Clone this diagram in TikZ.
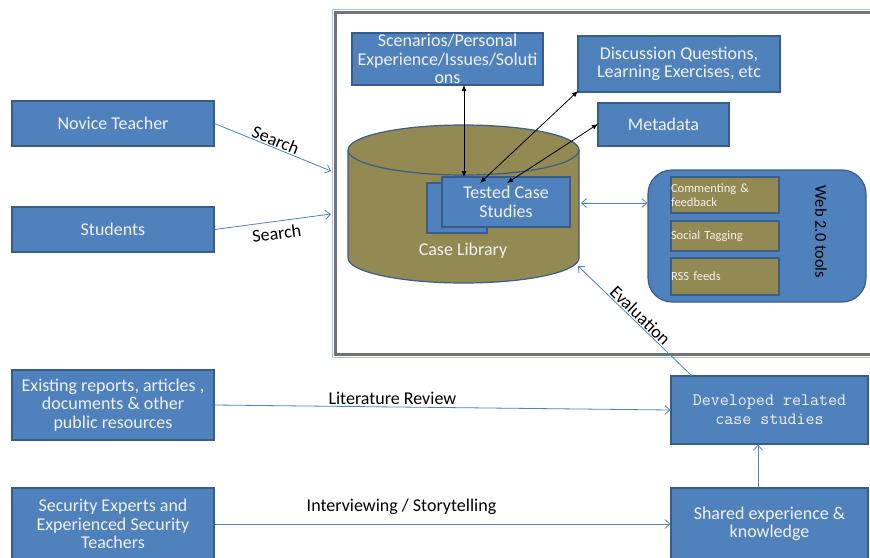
\documentclass[tikz,border=0pt]{standalone}
\usepackage{fontspec}
\setmainfont{Carlito}
\usetikzlibrary{arrows.meta}
\definecolor{boxblue}{HTML}{4F81BD}
\definecolor{boxline}{HTML}{385D8A}
\definecolor{olivefill}{HTML}{938953}
\definecolor{frameblue}{HTML}{A9C4E8}
\definecolor{textwhite}{HTML}{F2F2F2}
\tikzset{
  bluebox/.style={draw=boxline, fill=boxblue, line width=1.2pt, text=textwhite, align=center,
    font=\fontsize{18}{18.5}\selectfont, inner sep=0pt},
  olivebox/.style={draw=boxline, fill=olivefill, line width=1.6pt, text=textwhite, align=left,
    font=\fontsize{12.5}{14}\selectfont, inner sep=0pt, text width=108pt},
  bluearrow/.style={draw=boxblue, line width=0.8pt, -{Straight Barb[length=5pt,width=9pt]}},
  blackarrow/.style={draw=black, line width=0.8pt, {Latex[length=6pt,width=5pt]}-{Latex[length=6pt,width=5pt]}},
  lbl/.style={font=\fontsize{18}{19}\selectfont, text=black, inner sep=1pt}
}
\begin{document}
\begin{tikzpicture}[x=1pt,y=-1pt]
\useasboundingbox (0,0) rectangle (870,557);
% frame
\draw[frameblue, line width=1pt] (332,9.5) rectangle (885,357.5);
\draw[black!55, line width=2.5pt] (335.5,12.5) rectangle (885,354.5);
% top boxes
\node[bluebox, minimum width=191pt, minimum height=52pt] (scen) at (447.5,59) {Scenarios/Personal\\Experience/Issues/Soluti\\ons};
\node[bluebox, minimum width=202pt, minimum height=56pt] (disc) at (679,64) {Discussion Questions,\\Learning Exercises, etc};
\node[bluebox, minimum width=131pt, minimum height=43pt] (meta) at (663.5,124.5) {Metadata};
% cylinder
\fill[olivefill] (348,150) -- (348,258) arc[start angle=180, end angle=360, x radius=115.5pt, y radius=25pt]
  -- (579,150) arc[start angle=0, end angle=180, x radius=115.5pt, y radius=25pt] -- cycle;
\draw[boxline, line width=1.2pt] (348,150) -- (348,258) arc[start angle=180, end angle=360, x radius=115.5pt, y radius=25pt] -- (579,150);
\draw[boxline, line width=1.2pt] (463.5,150) ellipse [x radius=115.5pt, y radius=25pt];
\node[lbl, text=textwhite] (clib) at (463,251) {Case Library};
\coordinate (libR) at (581,203);
\coordinate (libB) at (578,266);
% tested case studies
\node[bluebox, minimum width=60pt, minimum height=50pt] (back) at (457,208) {};
\node[bluebox, minimum width=128pt, minimum height=50pt] (tcs) at (506,202) {Tested Case\\Studies};
% black arrows
\coordinate (t1) at (464,177);
\coordinate (t2) at (480,183);
\coordinate (t3) at (507,183);
\coordinate (s1) at (464,85);
\coordinate (d1) at (578,91);
\coordinate (m1) at (598,124);
\draw[blackarrow] (s1) -- (t1);
\draw[blackarrow] (d1) -- (t2);
\draw[blackarrow] (m1) -- (t3);
% web 2.0 tools
\node[draw=boxline, fill=boxblue, line width=1.2pt, rounded corners=24pt, minimum width=218pt, minimum height=132pt, inner sep=0pt] (web) at (757,236) {};
\node[olivebox, minimum height=36pt] (comm) at (725,195) {Commenting \&\\feedback};
\node[olivebox, minimum height=30pt] (tag) at (725,236) {Social Tagging};
\node[olivebox, minimum height=37pt] (rss) at (725,276.5) {RSS feeds};
\node[lbl, rotate=-90, font=\fontsize{16.5}{18}\selectfont] (webl) at (821,232) {Web 2.0 tools};
\draw[boxblue, line width=0.8pt, {Straight Barb[length=5pt,width=9pt]}-{Straight Barb[length=5pt,width=9pt]}] (libR) -- (web.west |- libR);
% left boxes
\node[bluebox, minimum width=202pt, minimum height=45pt] (nov) at (113,123.5) {Novice Teacher};
\node[bluebox, minimum width=202pt, minimum height=45pt] (stu) at (113,229.5) {Students};
\coordinate (se1) at (331,171);
\coordinate (se2) at (331,214);
\draw[bluearrow] (nov.east) -- (se1) node[lbl, pos=0.5, above, sloped] {Search};
\draw[bluearrow] (stu.east) -- (se2) node[lbl, pos=0.52, below=4pt, sloped] {Search};
\node[bluebox, minimum width=202pt, minimum height=70pt] (exist) at (113,405) {Existing reports, articles ,\\documents \& other\\public resources};
\node[bluebox, minimum width=202pt, minimum height=72pt] (sec) at (113,524) {Security Experts and\\Experienced Security\\Teachers};
\node[bluebox, minimum width=197pt, minimum height=68pt, font=\ttfamily\fontsize{17.5}{19}\selectfont] (dev) at (769.5,410) {Developed related\\case studies};
\node[bluebox, minimum width=197pt, minimum height=72pt] (shr) at (769.5,524) {Shared experience \&\\knowledge};
\draw[bluearrow] (exist.east) -- (dev.west) node[lbl, pos=0.39, above=1pt] {Literature Review};
\draw[bluearrow] (sec.east) -- (sec.east -| shr.west) node[lbl, pos=0.41, above=8pt] {Interviewing / Storytelling};
\draw[bluearrow] (shr.north -| 758,0) -- (dev.south -| 758,0);
\coordinate (ev) at (692,376);
\draw[bluearrow] (ev) -- (libB) node[lbl, pos=0.5, above, sloped] {Evaluation};
\end{tikzpicture}
\end{document}
